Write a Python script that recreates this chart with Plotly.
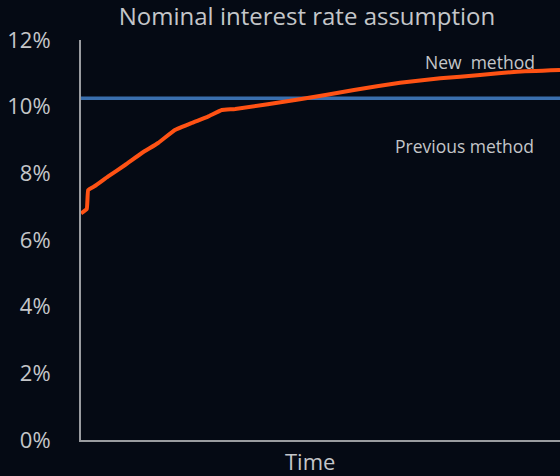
import plotly.graph_objects as go

# Data
time = [0, 1.2, 1.5, 2.9, 5.6, 9.2, 12.7, 16.1, 19.6, 23.1, 26.5, 29.4, 32.2, 45.7, 57, 66.6, 75, 83.3, 91, 100]
new_method = [6.80, 6.93, 7.50, 7.62, 7.90, 8.25, 8.61, 8.91, 9.30, 9.51, 9.70, 9.90, 9.93, 10.22, 10.50, 10.72, 10.85, 10.95, 11.05, 11.10]
prev_time = [0, 100]
previous_method = [10.25, 10.25]
y_ticks = [0, 2, 4, 6, 8, 10, 12]
y_tick_labels = ["0%", "2%", "4%", "6%", "8%", "10%", "12%"]

font = "Open Sans"
txt = "#c4c6c9"
bg = "#050a14"

fig = go.Figure()
fig.add_trace(go.Scatter(x=prev_time, y=previous_method, mode="lines",
                         line=dict(color="#3a6fae", width=3.5), hoverinfo="skip"))
fig.add_trace(go.Scatter(x=time, y=new_method, mode="lines",
                         line=dict(color="#ff5214", width=4, shape="spline", smoothing=0.3),
                         hoverinfo="skip"))

fig.update_layout(
    width=560, height=476,
    paper_bgcolor=bg, plot_bgcolor=bg,
    margin=dict(l=81, r=0, t=40, b=36),
    showlegend=False,
    font=dict(family=font, color=txt, size=22),
    title=dict(text="Nominal interest rate assumption", x=307 / 560, xref="container", xanchor="center",
               y=1 - 17 / 476, yref="container", yanchor="middle",
               font=dict(family=font, size=24, color=txt)),
    xaxis=dict(range=[0, 100], showgrid=False, zeroline=False, showticklabels=False,
               showline=True, linecolor="#9a9ca0", linewidth=2, ticks=""),
    yaxis=dict(range=[0, 12], tickvals=y_ticks, ticktext=y_tick_labels, showgrid=False, zeroline=False,
               showline=True, linecolor="#9a9ca0", linewidth=2, ticks="",
               ticklabelstandoff=24, tickfont=dict(family=font, size=22, color=txt)),
    annotations=[
        dict(text="New\u00a0 method", x=83.3, y=11.35, xref="x", yref="y", showarrow=False,
             font=dict(family=font, size=17.5, color=txt)),
        dict(text="Previous method", x=80, y=8.82, xref="x", yref="y", showarrow=False,
             font=dict(family=font, size=17.5, color=txt)),
        dict(text="Time", x=(310 - 81) / 479 * 100, y=-21 / 400, xref="x", yref="paper",
             yanchor="middle", showarrow=False,
             font=dict(family=font, size=22, color=txt)),
    ],
)

fig.write_html("out.html", config={"displayModeBar": False},
               post_script="document.body.style.margin='0';document.body.style.background='#050a14';")
